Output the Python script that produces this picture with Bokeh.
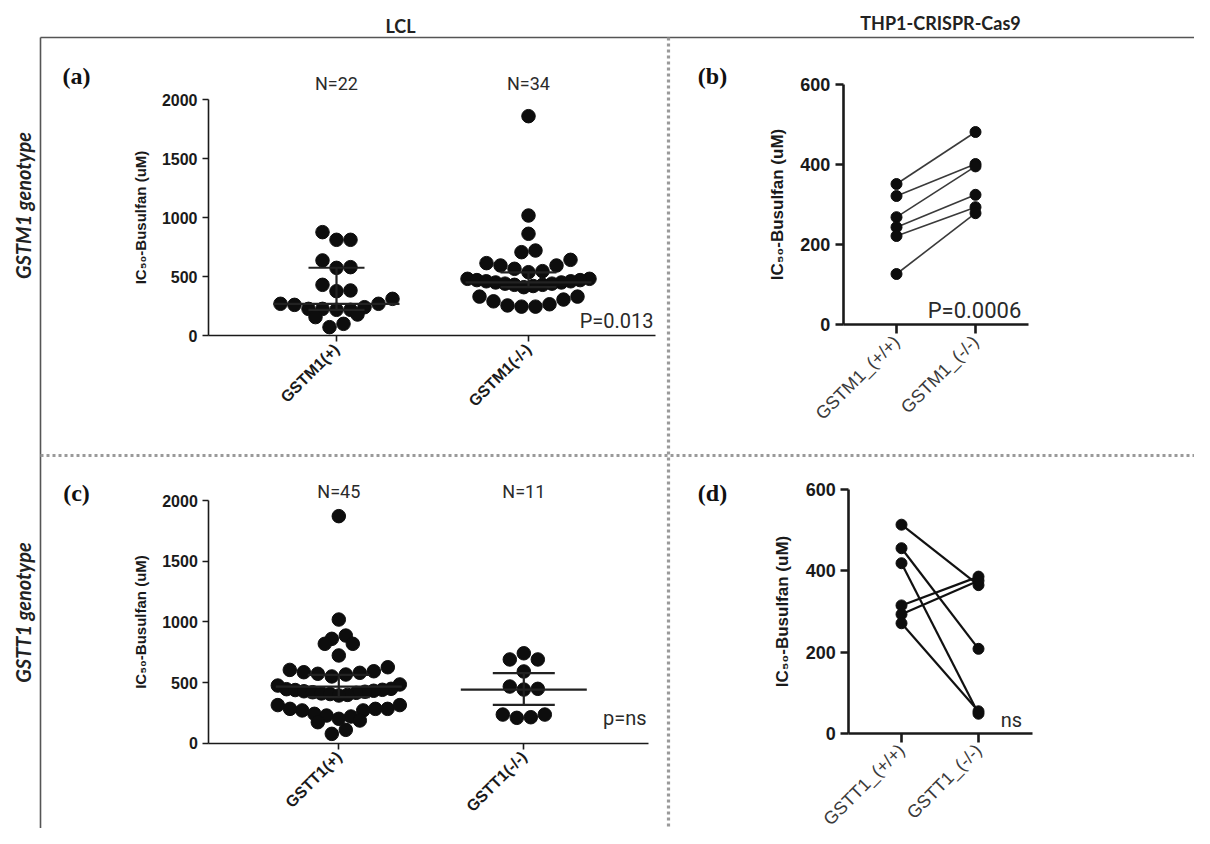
import numpy as np
from math import pi
from bokeh.plotting import figure
from bokeh.models import Range1d, LinearAxis, FixedTicker, Label
from bokeh.embed import file_html
from bokeh.resources import INLINE

# ---------------- data ----------------
lcl_gstm1_groups = ["GSTM1(+)", "GSTM1(-/-)"]
lcl_gstm1_pos = [877, 812, 812, 637, 580, 574, 430, 376, 382, 269, 260, 226, 226,
                 218, 218, 240, 269, 311, 156, 178, 71, 99]
lcl_gstm1_neg = [1861, 1018, 863, 721, 707, 642, 614, 594, 594, 566, 546, 537,
                 481, 481, 470, 470, 460, 460, 450, 450, 440, 440, 430, 430, 420, 410,
                 330, 290, 255, 245, 245, 265, 305, 330]
lcl_gstm1_center = [269, 450]      # median
lcl_gstm1_low = [218, 410]         # lower quartile
lcl_gstm1_high = [575, 535]        # upper quartile
lcl_gstm1_stat = "P=0.013"

lcl_gstt1_groups = ["GSTT1(+)", "GSTT1(-/-)"]
lcl_gstt1_pos = [1871, 1019, 887, 860, 819, 819, 723,
                 626, 604, 593, 585, 580, 572, 566, 550,
                 484, 475,
                 448, 445, 440, 438, 432, 428, 424, 420, 415, 410, 405, 398, 393,
                 314, 283, 270, 242, 220, 201, 228, 270, 283, 283, 314,
                 173, 187, 110, 77]
lcl_gstt1_neg = [741, 690, 690, 591, 448, 442, 467, 236, 209, 214, 236]
lcl_gstt1_center = [467, 442]      # mean
lcl_gstt1_low = [380, 316]
lcl_gstt1_high = [563, 577]
lcl_gstt1_stat = "p=ns"

thp1_gstm1_groups = ["GSTM1_(+/+)", "GSTM1_(-/-)"]
thp1_gstm1_wt = [352, 322, 269, 244, 222, 127]
thp1_gstm1_ko = [482, 402, 396, 325, 294, 279]
thp1_gstm1_stat = "P=0.0006"

thp1_gstt1_groups = ["GSTT1_(+/+)", "GSTT1_(-/-)"]
thp1_gstt1_wt = [514, 456, 419, 315, 293, 271]
thp1_gstt1_ko = [365, 208, 48, 386, 376, 54]
thp1_gstt1_stat = "ns"

lcl_yticks = [0, 500, 1000, 1500, 2000]
thp1_yticks = [0, 200, 400, 600]
col_titles = ["LCL", "THP1-CRISPR-Cas9"]
row_titles = ["GSTM1 genotype", "GSTT1 genotype"]
panel_tags = ["(a)", "(b)", "(c)", "(d)"]
y_title = "IC\u2085\u2080-Busulfan (uM)"

# ---------------- layout (reference pixel geometry) ----------------
W, H = 1194, 828
L, T = 0, 0
R, B = L + W, T + H

p = figure(width=W, height=H, output_backend="svg", toolbar_location=None,
           x_range=Range1d(L, R), y_range=Range1d(B, T),
           x_axis_type=None, y_axis_type=None, min_border=0,
           background_fill_color="white", border_fill_color="white")
p.outline_line_color = None
p.grid.visible = False

GEOM = {
    "a": dict(ax=208, y0=335, yr=99.3, yv=2000, c0=336, c1=528, xe=655),
    "b": dict(ax=842.7, y0=324.3, yr=84.3, yv=600, c0=896, c1=975, xe=1028),
    "c": dict(ax=208.3, y0=742.7, yr=500, yv=2000, c0=338.3, c1=523.3, xe=648),
    "d": dict(ax=848.3, y0=732.7, yr=489.3, yv=600, c0=901, c1=978, xe=1031.7),
}


def setup_panel(k, groups, yticks, lcl):
    g = GEOM[k]
    kx = 1.0 / (g["c1"] - g["c0"])
    ky = g["yv"] / (g["y0"] - g["yr"])
    xn, yn = "x" + k, "y" + k
    p.extra_x_ranges[xn] = Range1d((L - g["c0"]) * kx, (R - g["c0"]) * kx)
    p.extra_y_ranges[yn] = Range1d((g["y0"] - B) * ky, (g["y0"] - T) * ky)
    xloc = (g["ax"] - g["c0"]) * kx
    xend = (g["xe"] - g["c0"]) * kx
    lw = 1.6 if lcl else 2.6
    yax = LinearAxis(x_range_name=xn, y_range_name=yn, fixed_location=xloc,
                     bounds=(0, yticks[-1]), ticker=FixedTicker(ticks=yticks),
                     axis_label=y_title)
    yax.axis_line_width = lw
    yax.major_tick_line_width = lw
    yax.axis_line_color = "#1a1a1a"
    yax.major_tick_line_color = "#1a1a1a"
    yax.major_tick_out = 6 if lcl else 8
    yax.major_tick_in = 0
    yax.minor_tick_out = 0
    yax.major_label_text_font = "Liberation Sans"
    yax.major_label_text_font_style = "bold"
    yax.major_label_text_font_size = "16px" if lcl else "18px"
    yax.major_label_text_color = "#1a1a1a"
    yax.axis_label_text_font = "Liberation Sans"
    yax.axis_label_text_font_style = "bold"
    yax.axis_label_text_font_size = "15px" if lcl else "17px"
    yax.axis_label_text_color = "#1a1a1a"
    yax.axis_label_standoff = 10
    p.add_layout(yax, "left")

    xax = LinearAxis(x_range_name=xn, y_range_name=yn, fixed_location=0,
                     bounds=(xloc, xend), ticker=FixedTicker(ticks=[0, 1]),
                     major_label_overrides={0: groups[0], 1: groups[1]})
    xax.major_label_orientation = pi / 4
    xax.axis_line_width = lw
    xax.major_tick_line_width = lw
    xax.axis_line_color = "#1a1a1a"
    xax.major_tick_line_color = "#1a1a1a"
    xax.major_tick_out = 6 if lcl else 9
    xax.major_tick_in = 0
    xax.minor_tick_out = 0
    xax.major_label_text_font = "Liberation Sans"
    xax.major_label_text_font_style = "bold" if lcl else "normal"
    xax.major_label_text_font_size = "16px" if lcl else "18px"
    xax.major_label_text_color = "#1a1a1a" if lcl else "#3a3a3a"
    p.add_layout(xax, "below")
    return xn, yn, kx, ky


def column_scatter_offsets(vals, units_per_px, dot_px, half_width_px):
    """Scatter-dot-plot layout: points in rows of one dot height, spread centre-out."""
    v = np.asarray(vals, float)
    order = np.argsort(v, kind="stable")
    off = np.zeros(len(v))
    bin_h = dot_px * units_per_px
    i = 0
    while i < len(order):
        j = i
        while j < len(order) and v[order[j]] < v[order[i]] + bin_h:
            j += 1
        members = order[i:j]
        n = len(members)
        gap = dot_px if n < 2 else min(dot_px, 2 * half_width_px / (n - 1))
        if n % 2:
            slots = [0]
            for s in range(1, n // 2 + 1):
                slots += [s, -s] if s == 1 else [-s, s]
        else:
            slots = []
            for s in range(n // 2):
                slots += [-(s + 0.5), s + 0.5]
        for m, sl in zip(members, slots):
            off[m] = sl * gap
        i = j
    return off


def lcl_panel(k, groups, series, center, low, high, stat, stat_xy, half_w, half_s):
    xn, yn, kx, ky = setup_panel(k, groups, lcl_yticks, True)
    for gi, vals in enumerate(series):
        off = column_scatter_offsets(vals, ky, 14.0, 61.0) * kx
        p.scatter(x=gi + off, y=vals, size=13.5, fill_color="#0d0d0d",
                  line_color="#0d0d0d", x_range_name=xn, y_range_name=yn)
        lab = Label(x=gi, y=GEOM[k]["y0"] - 252, x_range_name=xn,
                    text=f"N={len(vals)}", text_align="center", text_baseline="middle",
                    text_font="Roboto", text_font_size="18px", text_color="#2a2a2a")
        p.add_layout(lab)
    idx = np.arange(len(center), dtype=float)
    w, s = half_w * kx, half_s * kx
    for ys, hw in ((center, w), (low, s), (high, s)):
        p.segment(x0=idx - hw, x1=idx + hw, y0=ys, y1=ys,
                  line_color="#222222", line_width=2.2, x_range_name=xn, y_range_name=yn)
    p.segment(x0=idx, x1=idx, y0=low, y1=high, line_color="#222222", line_width=2.2,
              x_range_name=xn, y_range_name=yn)
    p.add_layout(Label(x=stat_xy[0], y=stat_xy[1], text=stat, text_align="right",
                       text_baseline="middle", text_font="Roboto", text_font_size="20px",
                       text_color="#2a2a2a"))


def thp1_panel(k, groups, wt, ko, stat, stat_xy, size, color, lw):
    xn, yn, kx, ky = setup_panel(k, groups, thp1_yticks, False)
    n = len(wt)
    p.segment(x0=[0] * n, y0=wt, x1=[1] * n, y1=ko, line_color=color, line_width=lw,
              x_range_name=xn, y_range_name=yn)
    p.scatter(x=[0] * n, y=wt, size=size, fill_color="#0d0d0d", line_color="#0d0d0d",
              x_range_name=xn, y_range_name=yn)
    p.scatter(x=[1] * n, y=ko, size=size, fill_color="#0d0d0d", line_color="#0d0d0d",
              x_range_name=xn, y_range_name=yn)
    p.add_layout(Label(x=stat_xy[0], y=stat_xy[1], text=stat, text_align="center",
                       text_baseline="middle", text_font="Roboto",
                       text_font_size="22px" if k == "b" else "20px", text_color="#2a2a2a"))


# ---------------- frame decorations ----------------
p.segment(x0=[40, 40], y0=[37, 37], x1=[1210, 40], y1=[37, 844],
          line_color="#555555", line_width=1.6)
p.segment(x0=[668, 40], y0=[37, 455], x1=[668, 1210], y1=[844, 455],
          line_color="#9a9a9a", line_width=3.2, line_dash="3 3")

for txt, x, y in zip(col_titles, [400, 940], [25, 22]):
    p.add_layout(Label(x=x, y=y, text=txt, text_align="center", text_baseline="middle",
                       text_font="Lato", text_font_style="bold", text_font_size="18px",
                       text_color="#222222"))
for txt, y in zip(row_titles, [205, 612]):
    p.add_layout(Label(x=22, y=y, text=txt, angle=pi / 2, text_align="center",
                       text_baseline="middle", text_font="Lato",
                       text_font_style="bold italic", text_font_size="20px",
                       text_color="#222222"))
for txt, x, y in zip(panel_tags, [76, 712, 76, 712], [75, 75, 492, 492]):
    p.add_layout(Label(x=x, y=y, text=txt, text_align="center", text_baseline="middle",
                       text_font="Liberation Serif", text_font_style="bold",
                       text_font_size="24px", text_color="#111111"))

# ---------------- panels ----------------
lcl_panel("a", lcl_gstm1_groups, [lcl_gstm1_pos, lcl_gstm1_neg], lcl_gstm1_center,
          lcl_gstm1_low, lcl_gstm1_high, lcl_gstm1_stat, (653, 320), 63, 28)
thp1_panel("b", thp1_gstm1_groups, thp1_gstm1_wt, thp1_gstm1_ko, thp1_gstm1_stat,
           (974, 310), 11, "#3a3a3a", 1.6)
lcl_panel("c", lcl_gstt1_groups, [lcl_gstt1_pos, lcl_gstt1_neg], lcl_gstt1_center,
          lcl_gstt1_low, lcl_gstt1_high, lcl_gstt1_stat, (646, 717), 63, 31)
thp1_panel("d", thp1_gstt1_groups, thp1_gstt1_wt, thp1_gstt1_ko, thp1_gstt1_stat,
           (1011, 719), 11, "#111111", 2.2)

open("out.html", "w").write(file_html(p, INLINE))
